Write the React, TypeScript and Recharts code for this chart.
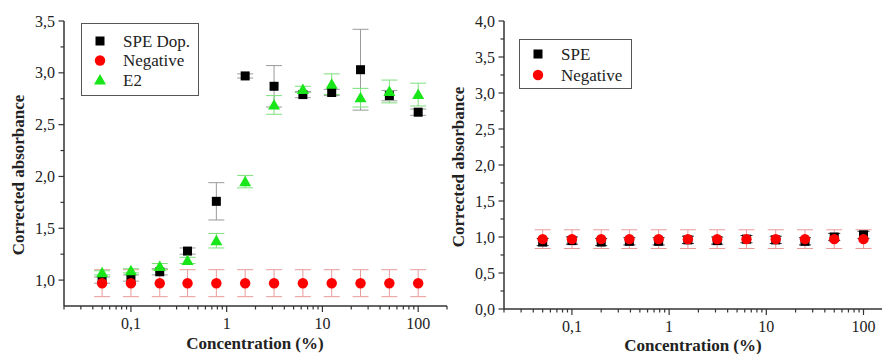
import { ScatterChart, Scatter, XAxis, YAxis, ErrorBar, Legend, Label } from 'recharts'

// dilution series (%)
const concentrations = [0.05, 0.1, 0.2, 0.39, 0.78, 1.56, 3.125, 6.25, 12.5, 25, 50, 100]

// left panel
const speDop = [1.0, 1.02, 1.08, 1.28, 1.76, 2.97, 2.87, 2.79, 2.81, 3.03, 2.78, 2.62]
const speDopErr = [0.03, 0.03, 0.03, 0.03, 0.18, 0.02, 0.2, 0.03, 0.03, 0.39, 0.05, 0.03]
const negLeft = [0.97, 0.97, 0.97, 0.97, 0.97, 0.97, 0.97, 0.97, 0.97, 0.97, 0.97, 0.97]
const negLeftErr = [0.13, 0.13, 0.13, 0.13, 0.13, 0.13, 0.13, 0.13, 0.13, 0.13, 0.13, 0.13]
const e2 = [1.07, 1.09, 1.13, 1.19, 1.38, 1.95, 2.69, 2.84, 2.89, 2.76, 2.82, 2.79]
const e2Err = [0.02, 0.02, 0.03, 0.03, 0.07, 0.06, 0.09, 0.03, 0.1, 0.09, 0.11, 0.11]

// right panel
const spe = [0.93, 0.95, 0.93, 0.94, 0.94, 0.96, 0.95, 0.97, 0.96, 0.94, 1.0, 1.03]
const speErr = [0.05, 0.05, 0.05, 0.05, 0.05, 0.05, 0.05, 0.05, 0.05, 0.05, 0.05, 0.05]
const negRight = [0.97, 0.97, 0.97, 0.97, 0.97, 0.97, 0.97, 0.97, 0.97, 0.97, 0.97, 0.97]
const negRightErr = [0.13, 0.13, 0.13, 0.13, 0.13, 0.13, 0.13, 0.13, 0.13, 0.13, 0.13, 0.13]

// ticks
const xMajorTicks = [0.1, 1, 10, 100]
const xMajorLabels = ['0,1', '1', '10', '100']
const xMinorMultipliers = [2, 3, 4, 5, 6, 7, 8, 9]
const xDecades = [0.01, 0.1, 1, 10, 100]
const yLeftTicks = [1.0, 1.25, 1.5, 1.75, 2.0, 2.25, 2.5, 2.75, 3.0, 3.25, 3.5]
const yRightTicks = [0, 0.25, 0.5, 0.75, 1.0, 1.25, 1.5, 1.75, 2.0, 2.25, 2.5, 2.75, 3.0, 3.25, 3.5, 3.75, 4.0]

const FONT = 'Liberation Serif'
const AXIS = '#333'

const toPoints = (ys: number[], errs: number[]) =>
  concentrations.map((x, i) => ({ x, y: ys[i], err: errs[i] }))

const makeXTicks = (lo: number, hi: number) => {
  const all: number[] = []
  xDecades.forEach((d) => {
    all.push(d)
    xMinorMultipliers.forEach((m) => all.push(+(d * m).toPrecision(3)))
  })
  return all.filter((t) => t >= lo && t <= hi)
}

const Square = (props: any) => (
  <rect x={props.cx - 4.5} y={props.cy - 4.5} width={9} height={9} fill="#000" />
)
const Dot = (props: any) => <circle cx={props.cx} cy={props.cy} r={5.2} fill="#ff0000" />
const Tri = (props: any) => (
  <polygon
    points={`${props.cx},${props.cy - 6} ${props.cx - 6},${props.cy + 4.5} ${props.cx + 6},${props.cy + 4.5}`}
    fill="#19e619"
  />
)

const xTick = (axisY: number) => (props: any) => {
  const { x, payload } = props
  const idx = xMajorTicks.findIndex((t) => Math.abs(t - payload.value) < 1e-9)
  const major = idx >= 0
  return (
    <g>
      <line x1={x} x2={x} y1={axisY} y2={axisY + (major ? 6 : 3.5)} stroke={AXIS} strokeWidth={1.2} />
      {major && (
        <text className="serif" x={x} y={axisY + 17} dy="0.35em" textAnchor="middle" fontSize={16} fontFamily={FONT} fill="#222">
          {xMajorLabels[idx]}
        </text>
      )}
    </g>
  )
}

const yTick = (axisX: number) => (props: any) => {
  const { y, payload } = props
  const v = payload.value
  const major = Math.abs(v * 2 - Math.round(v * 2)) < 1e-6
  return (
    <g>
      <line x1={axisX - (major ? 5.5 : 3.5)} x2={axisX} y1={y} y2={y} stroke={AXIS} strokeWidth={1.2} />
      {major && (
        <text className="serif" x={axisX - 9} y={y} dy="0.35em" textAnchor="end" fontSize={16} fontFamily={FONT} fill="#222">
          {v.toFixed(1).replace('.', ',')}
        </text>
      )}
    </g>
  )
}

type Entry = { name: string; marker: 'square' | 'circle' | 'triangle' }

const legendBox = (entries: Entry[], w: number, h: number, top: number, step: number) => () => (
  <div style={{ width: w, height: h, border: '1.2px solid #555', background: '#fff', boxSizing: 'border-box' }}>
    <svg width={w - 2} height={h - 2}>
      {entries.map((e, i) => {
        const cy = top + i * step
        const cx = 18
        return (
          <g key={e.name}>
            {e.marker === 'square' && <Square cx={cx} cy={cy} />}
            {e.marker === 'circle' && <Dot cx={cx} cy={cy} />}
            {e.marker === 'triangle' && <Tri cx={cx} cy={cy} />}
            <text className="serif" x={41} y={cy} dy="0.35em" fontSize={17} fontFamily={FONT} fill="#222">
              {e.name}
            </text>
          </g>
        )
      })}
    </svg>
  </div>
)

const yLabel = (cx: number, cy: number) => () => (
  <text
    className="serif"
    x={cx}
    y={cy}
    transform={`rotate(-90 ${cx} ${cy})`}
    textAnchor="middle"
    dy="0.35em"
    fontSize={17}
    fontWeight="bold"
    fontFamily={FONT}
    fill="#222"
  >
    Corrected absorbance
  </text>
)

const xLabel = (cx: number, cy: number) => () => (
  <text className="serif" x={cx} y={cy} textAnchor="middle" dy="0.35em" fontSize={17} fontWeight="bold" fontFamily={FONT} fill="#222">
    Concentration (%)
  </text>
)

const css = `
html body #root .panels svg text.serif,
html body #root .panels .recharts-wrapper svg text.serif,
html body #root .panels .recharts-wrapper .recharts-legend-wrapper svg text.serif {
  font-family: "Liberation Serif", serif !important;
}
`

export default function App() {
  const leftTicks = makeXTicks(0.02, 200)
  const rightTicks = makeXTicks(0.02, 155)

  return (
    <div className="panels" style={{ position: 'absolute', left: 0, top: 0, width: 882, height: 354, background: '#fff' }}>
      <style>{css}</style>
      <div style={{ position: 'absolute', left: 0, top: 0 }}>
        <ScatterChart width={450} height={354} margin={{ top: 21, right: 3, bottom: 8, left: 0 }}>
          <XAxis
            type="number"
            dataKey="x"
            scale="log"
            domain={[0.02, 200]}
            allowDataOverflow
            ticks={leftTicks}
            interval={0}
            height={40}
            tickLine={false}
            axisLine={{ stroke: AXIS, strokeWidth: 1.5 }}
            tick={xTick(306)}
          >
            <Label content={xLabel(255, 343)} />
          </XAxis>
          <YAxis
            type="number"
            dataKey="y"
            domain={[0.75, 3.5]}
            allowDataOverflow
            ticks={yLeftTicks}
            interval={0}
            width={64}
            tickLine={false}
            axisLine={{ stroke: AXIS, strokeWidth: 1.5 }}
            tick={yTick(64)}
          >
            <Label content={yLabel(18, 175)} />
          </YAxis>
          <Legend
            layout="vertical"
            align="center"
            verticalAlign="middle"
            wrapperStyle={{ left: 81, top: 23, width: 118 }}
            content={legendBox(
              [
                { name: 'SPE Dop.', marker: 'square' },
                { name: 'Negative', marker: 'circle' },
                { name: 'E2', marker: 'triangle' },
              ],
              118,
              73,
              17,
              19.5
            )}
          />
          <Scatter name="SPE Dop." data={toPoints(speDop, speDopErr)} shape={Square} isAnimationActive={false}>
            <ErrorBar dataKey="err" direction="y" width={8} stroke="#9a9a9a" strokeWidth={1} isAnimationActive={false} />
          </Scatter>
          <Scatter name="Negative" data={toPoints(negLeft, negLeftErr)} shape={Dot} isAnimationActive={false}>
            <ErrorBar dataKey="err" direction="y" width={8} stroke="#e89a9a" strokeWidth={1} isAnimationActive={false} />
          </Scatter>
          <Scatter name="E2" data={toPoints(e2, e2Err)} shape={Tri} isAnimationActive={false}>
            <ErrorBar dataKey="err" direction="y" width={8} stroke="#7de07d" strokeWidth={1} isAnimationActive={false} />
          </Scatter>
        </ScatterChart>
      </div>

      <div style={{ position: 'absolute', left: 440, top: 0 }}>
        <ScatterChart width={442} height={354} margin={{ top: 21, right: 0, bottom: 5, left: 0 }}>
          <XAxis
            type="number"
            dataKey="x"
            scale="log"
            domain={[0.02, 155]}
            allowDataOverflow
            ticks={rightTicks}
            interval={0}
            height={40}
            tickLine={false}
            axisLine={{ stroke: AXIS, strokeWidth: 1.5 }}
            tick={xTick(309)}
          >
            <Label content={xLabel(253, 345)} />
          </XAxis>
          <YAxis
            type="number"
            dataKey="y"
            domain={[0, 4]}
            allowDataOverflow
            ticks={yRightTicks}
            interval={0}
            width={64}
            tickLine={false}
            axisLine={{ stroke: AXIS, strokeWidth: 1.5 }}
            tick={yTick(64)}
          >
            <Label content={yLabel(18, 167)} />
          </YAxis>
          <Legend
            layout="vertical"
            align="center"
            verticalAlign="middle"
            wrapperStyle={{ left: 79, top: 39, width: 113 }}
            content={legendBox(
              [
                { name: 'SPE', marker: 'square' },
                { name: 'Negative', marker: 'circle' },
              ],
              113,
              50,
              14,
              21
            )}
          />
          <Scatter name="SPE" data={toPoints(spe, speErr)} shape={Square} isAnimationActive={false}>
            <ErrorBar dataKey="err" direction="y" width={6} stroke="#333" strokeWidth={1} isAnimationActive={false} />
          </Scatter>
          <Scatter name="Negative" data={toPoints(negRight, negRightErr)} shape={Dot} isAnimationActive={false}>
            <ErrorBar dataKey="err" direction="y" width={8} stroke="#e89a9a" strokeWidth={1} isAnimationActive={false} />
          </Scatter>
        </ScatterChart>
      </div>
    </div>
  )
}
